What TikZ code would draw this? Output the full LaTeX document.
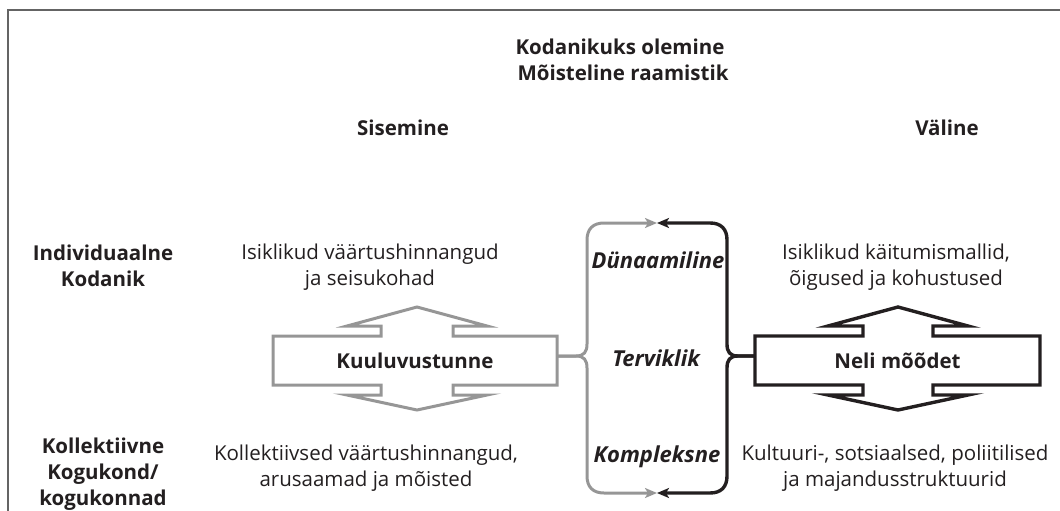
\documentclass[tikz,border=0pt]{standalone}
\usepackage{fontspec}
\setmainfont{Open Sans}
\usetikzlibrary{arrows.meta}
\definecolor{ink}{RGB}{35,31,32}
\definecolor{lgray}{RGB}{150,150,150}
\definecolor{fgray}{RGB}{100,100,100}
\tikzset{
  txt/.style={inner sep=0pt, align=center, text=ink, font=\fontsize{20.5}{26}\selectfont},
  btxt/.style={txt, font=\fontsize{20.5}{26}\selectfont\bfseries},
  itxt/.style={txt, font=\fontsize{22}{26}\selectfont\bfseries\itshape},
  grayline/.style={draw=lgray, line width=3pt, line join=miter},
  blackline/.style={draw=ink, line width=3.4pt, line join=miter},
  tip/.style={-{Stealth[length=12pt,width=10pt,inset=3pt]}},
}
\begin{document}
\begin{tikzpicture}[x=1pt,y=-1pt]
\useasboundingbox (0,0) rectangle (1060,511);
\begin{scope}
\clip (0,0) rectangle (1060,511);
% frame
\draw[fgray, line width=1.6pt] (8,520) -- (8,10) -- (1070,10);
% titles
\node[btxt] (t1) at (620,47) {Kodanikuks olemine};
\node[btxt] (t2) at (623,73) {Mõisteline raamistik};
\node[btxt] (sis) at (403,128) {Sisemine};
\node[btxt] (val) at (947,128) {Väline};
\node[btxt] (ind) at (103,266) {Individuaalne\\Kodanik};
\node[btxt] (kol) at (103,474) {Kollektiivne\\Kogukond/\\kogukonnad};
\node[txt] (isv) at (370,267) {Isiklikud väärtushinnangud\\ja seisukohad};
\node[txt] (kov) at (366,468) {Kollektiivsed väärtushinnangud,\\arusaamad ja mõisted};
\node[txt] (isk) at (896,267) {Isiklikud käitumismallid,\\õigused ja kohustused};
\node[txt] (kul) at (895,468) {Kultuuri-, sotsiaalsed, poliitilised\\ja majandusstruktuurid};
% gray double arrow
\path[grayline] (417,307) -- (487,326) -- (453,326) -- (453,336) -- (557,336) -- (557,385)
  -- (453,385) -- (453,395) -- (487,395) -- (417,410) -- (347,395) -- (381,395) -- (381,385)
  -- (273,385) -- (273,336) -- (381,336) -- (381,326) -- (347,326) -- cycle;
\node[btxt, minimum width=284pt, minimum height=49pt] (kuul) at (415,360.5) {Kuuluvustunne};
% black double arrow
\path[blackline] (898,307) -- (968,326) -- (933,326) -- (933,336) -- (1040,336) -- (1040,385)
  -- (933,385) -- (933,395) -- (968,395) -- (898,410) -- (828,395) -- (863,395) -- (863,385)
  -- (755,385) -- (755,336) -- (863,336) -- (863,326) -- (828,326) -- cycle;
\node[btxt, minimum width=285pt, minimum height=49pt] (neli) at (897.5,360.5) {Neli mõõdet};
% middle labels
\node[itxt] (dyn) at (658,260) {Dünaamiline};
\node[itxt] (ter) at (656,358) {Terviklik};
\node[itxt] (kom) at (657,457) {Kompleksne};
% meeting points
\coordinate (ttop) at (657,223);
\coordinate (tbot) at (657,493);
% gray brace
\draw[grayline, tip] (kuul.east |- 0,356) -- (576,356) .. controls (584,356) and (587,352) .. (587,344)
  -- (587,240) .. controls (587,229) and (593,223) .. (604,223) -- (ttop);
\draw[grayline, tip] (kuul.east |- 0,356) -- (576,356) .. controls (584,356) and (587,360) .. (587,368)
  -- (587,476) .. controls (587,487) and (593,493) .. (604,493) -- (tbot);
% black brace
\draw[blackline, tip] (neli.west |- 0,356) -- (738,356) .. controls (730,356) and (727,352) .. (727,344)
  -- (727,240) .. controls (727,229) and (721,223) .. (710,223) -- (ttop);
\draw[blackline, tip] (neli.west |- 0,356) -- (738,356) .. controls (730,356) and (727,360) .. (727,368)
  -- (727,476) .. controls (727,487) and (721,493) .. (710,493) -- (tbot);
\end{scope}
\end{tikzpicture}
\end{document}
